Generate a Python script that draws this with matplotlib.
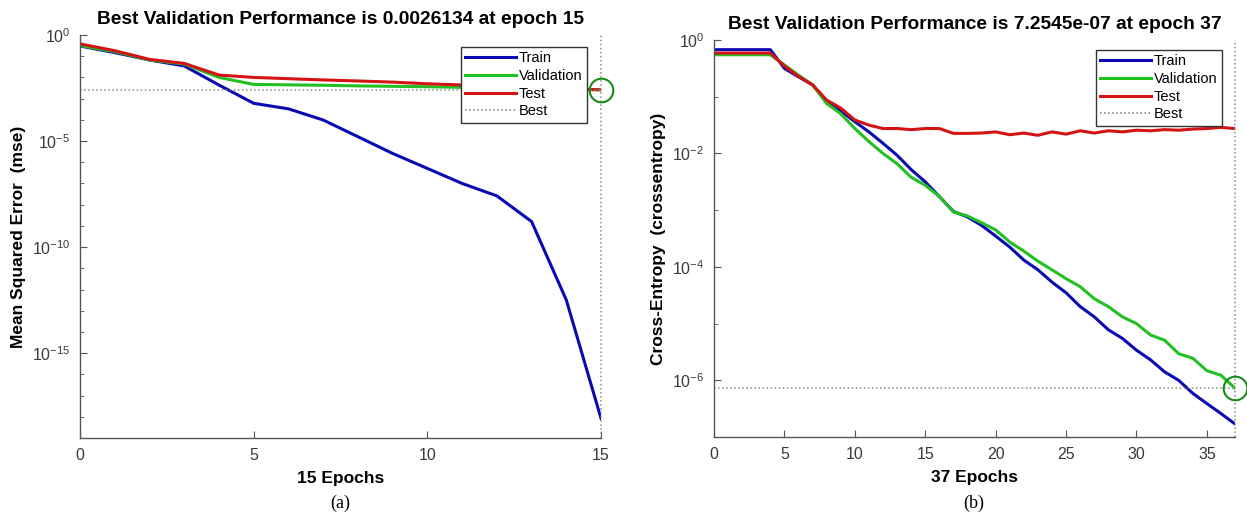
import numpy as np
import matplotlib
matplotlib.use("Agg")
import matplotlib.pyplot as plt

plt.rcParams['font.family'] = ['Liberation Sans', 'DejaVu Sans']
plt.rcParams['mathtext.default'] = 'regular'
plt.rcParams['axes.unicode_minus'] = False

# (a) mse performance, 15 epochs
epochs_a = np.arange(16)
train_a = [0.302, 0.148, 0.066, 0.0347, 4.37e-3, 6.0e-4, 3.3e-4, 9.8e-5,
           1.6e-5, 2.6e-6, 5.1e-7, 1.0e-7, 2.6e-8, 1.6e-9, 3.2e-13, 8.3e-19]
val_a = [0.316, 0.166, 0.066, 0.0427, 0.0100, 4.68e-3, 4.47e-3, 4.27e-3,
         3.98e-3, 3.80e-3, 3.63e-3, 3.39e-3, 3.16e-3, 2.95e-3, 2.75e-3, 2.6134e-3]
test_a = [0.38, 0.182, 0.0708, 0.0457, 0.0129, 0.0100, 8.7e-3, 7.6e-3,
          6.8e-3, 6.0e-3, 5.0e-3, 4.4e-3, 3.8e-3, 3.3e-3, 2.9e-3, 2.6e-3]
best_epoch_a = 15
best_val_a = 0.0026134

# (b) cross-entropy performance, 37 epochs
epochs_b = np.arange(38)
train_b = [0.676, 0.676, 0.676, 0.676, 0.676, 0.316, 0.224, 0.162, 0.0832, 0.0562,
           0.0363, 0.0240, 0.0151, 9.3e-3, 5.2e-3, 3.16e-3, 1.74e-3, 9.5e-4, 7.6e-4, 5.4e-4,
           3.5e-4, 2.24e-4, 1.32e-4, 8.9e-5, 5.4e-5, 3.5e-5, 2.0e-5, 1.32e-5, 7.8e-6, 5.5e-6,
           3.4e-6, 2.3e-6, 1.41e-6, 1.0e-6, 5.9e-7, 3.9e-7, 2.6e-7, 1.7e-7]
val_b = [0.55, 0.55, 0.55, 0.55, 0.55, 0.363, 0.240, 0.162, 0.0759, 0.0501,
         0.0275, 0.0162, 0.0100, 6.6e-3, 3.8e-3, 2.75e-3, 1.74e-3, 9.3e-4, 7.9e-4, 6.0e-4,
         4.5e-4, 2.75e-4, 1.9e-4, 1.26e-4, 8.9e-5, 6.2e-5, 4.5e-5, 2.75e-5, 2.0e-5, 1.32e-5,
         1.0e-5, 6.3e-6, 5.1e-6, 2.95e-6, 2.45e-6, 1.48e-6, 1.23e-6, 7.2545e-7]
test_b = [0.589, 0.589, 0.589, 0.589, 0.589, 0.347, 0.229, 0.162, 0.0871, 0.0631,
          0.0389, 0.0316, 0.0275, 0.0275, 0.0263, 0.0275, 0.0275, 0.0226, 0.0226, 0.0229,
          0.0240, 0.0214, 0.0229, 0.0209, 0.0240, 0.0219, 0.0251, 0.0229, 0.0251, 0.0240,
          0.0257, 0.0251, 0.0263, 0.0257, 0.0269, 0.0275, 0.0288, 0.0275]
best_epoch_b = 37
best_val_b = 7.2545e-07

BLUE = '#0a0ab4'
GREEN = '#22c022'
RED = '#d41414'
BEST = '#7f947f'
AXC = '#555555'


def perf_panel(ax, ep, tr, va, te, best_ep, best_val, ylim, majors, xticks, title, xlabel, ylabel, leg_anchor):
    ax.plot(ep, tr, color=BLUE, lw=2.2, label='Train')
    ax.plot(ep, va, color=GREEN, lw=2.2, label='Validation')
    ax.plot(ep, te, color=RED, lw=2.2, label='Test')
    ax.axhline(best_val, color=BEST, lw=1.1, ls=':', label='Best')
    ax.axvline(best_ep, color=BEST, lw=1.1, ls=':', clip_on=False)
    ax.plot([best_ep], [best_val], 'o', ms=17, mfc='none', mec='#1a8a1a', mew=1.5, clip_on=False)
    ax.set_yscale('log')
    ax.set_xlim(0, best_ep)
    ax.set_ylim(*ylim)
    ax.set_yticks(majors)
    lo = int(round(np.log10(ylim[0])))
    ax.set_yticks([10.0 ** k for k in range(lo, 1)], minor=True)
    ax.yaxis.set_minor_formatter(matplotlib.ticker.NullFormatter())
    ax.set_xticks(xticks)
    for s in ['top', 'right']:
        ax.spines[s].set_visible(False)
    for s in ['left', 'bottom']:
        ax.spines[s].set_color(AXC)
        ax.spines[s].set_linewidth(1)
    ax.tick_params(which='both', direction='in', colors=AXC, labelcolor='#3a3a3a', labelsize=11.5, pad=7)
    ax.tick_params(which='major', length=5)
    ax.tick_params(which='minor', length=3)
    ax.set_title(title, fontsize=13.8, fontweight='bold', pad=8)
    ax.set_xlabel(xlabel, fontsize=12.5, fontweight='bold', labelpad=6)
    ax.set_ylabel(ylabel, fontsize=12.5, fontweight='bold')
    leg = ax.legend(loc='upper right', bbox_to_anchor=leg_anchor, borderaxespad=0,
                    fontsize=10.5, handlelength=3.5, handletextpad=0.2, labelspacing=0.25,
                    borderpad=0.3, fancybox=False, framealpha=1)
    leg.get_frame().set_edgecolor('#333333')
    leg.get_frame().set_linewidth(1)
    # legend "Best" entry drawn as gray dotted line
    leg.get_lines()[3].set_color('#777777')


fig = plt.figure(figsize=(12.47, 5.13), dpi=100)
ax1 = fig.add_axes([0.0642, 0.1462, 0.4178, 0.7856])
ax2 = fig.add_axes([0.5726, 0.148, 0.4178, 0.774])

perf_panel(ax1, epochs_a, train_a, val_a, test_a, best_epoch_a, best_val_a,
           (1e-19, 1e0), [1e-15, 1e-10, 1e-5, 1e0], [0, 5, 10, 15],
           'Best Validation Performance is 0.0026134 at epoch 15', '15 Epochs',
           'Mean Squared Error  (mse)', (0.973, 0.970))
perf_panel(ax2, epochs_b, train_b, val_b, test_b, best_epoch_b, best_val_b,
           (1e-7, 1e0), [1e-6, 1e-4, 1e-2, 1e0], [0, 5, 10, 15, 20, 25, 30, 35],
           'Best Validation Performance is 7.2545e-07 at epoch 37', '37 Epochs',
           'Cross-Entropy  (crossentropy)', (0.975, 0.975))

fig.text(0.273, 0.0195, '(a)', family='Liberation Serif', fontsize=13, ha='center', va='center')
fig.text(0.781, 0.0195, '(b)', family='Liberation Serif', fontsize=13, ha='center', va='center')

fig.savefig('out.png', dpi=100)
